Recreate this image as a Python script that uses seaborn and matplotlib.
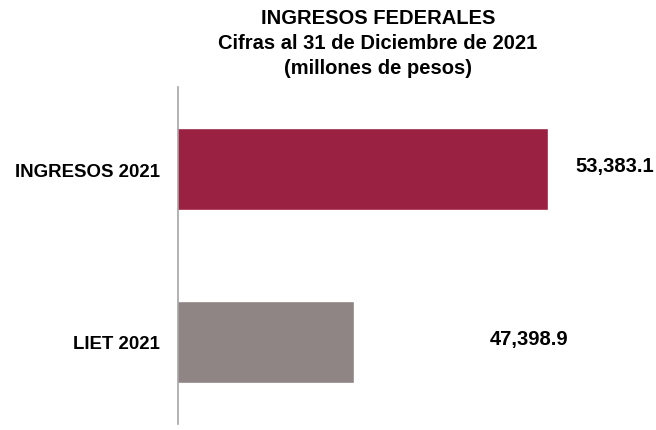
import matplotlib
matplotlib.use("Agg")
import matplotlib.pyplot as plt
import seaborn as sns
import pandas as pd

categorias = ["INGRESOS 2021", "LIET 2021"]
valores = [53383.1, 47398.9]
etiquetas = ["53,383.1", "47,398.9"]
colores = ["#9B2142", "#8F8584"]
# where the value labels sit (data units)
pos_etiquetas = [55450, 52800]

sns.set_theme(style="white")
plt.rcParams["font.family"] = ["Liberation Sans", "DejaVu Sans"]

df = pd.DataFrame({"categoria": categorias, "valor": valores})

fig = plt.figure(figsize=(6.56, 4.31), dpi=100)
ax = fig.add_axes([178 / 656, 6 / 431, 478 / 656, 337 / 431])

sns.barplot(data=df, x="valor", y="categoria", hue="categoria",
            palette=colores, width=0.474, legend=False, ax=ax, saturation=1)

ax.set_xlim(41970, 56714)
ax.set_ylim(1.474, -0.474)

for i, (txt, xp) in enumerate(zip(etiquetas, pos_etiquetas)):
    ax.text(xp, i - 0.02, txt, ha="center", va="center",
            fontsize=14.5, fontweight="bold", color="black")

ax.set_xlabel("")
ax.set_ylabel("")
ax.set_xticks([])
ax.tick_params(axis="y", length=0, pad=13)
for lbl in ax.get_yticklabels():
    lbl.set_fontweight("bold")
    lbl.set_fontsize(13.4)
    lbl.set_color("black")

for s in ["top", "right", "bottom"]:
    ax.spines[s].set_visible(False)
ax.spines["left"].set_color("#A6A6A6")
ax.spines["left"].set_linewidth(1.2)

fig.text(0.576, 0.978, "INGRESOS FEDERALES\nCifras al 31 de Diciembre de 2021\n(millones de pesos)",
         ha="center", va="top", fontsize=14.5, fontweight="bold", linespacing=1.38,
         color="black")

fig.savefig("out.png", dpi=100)
